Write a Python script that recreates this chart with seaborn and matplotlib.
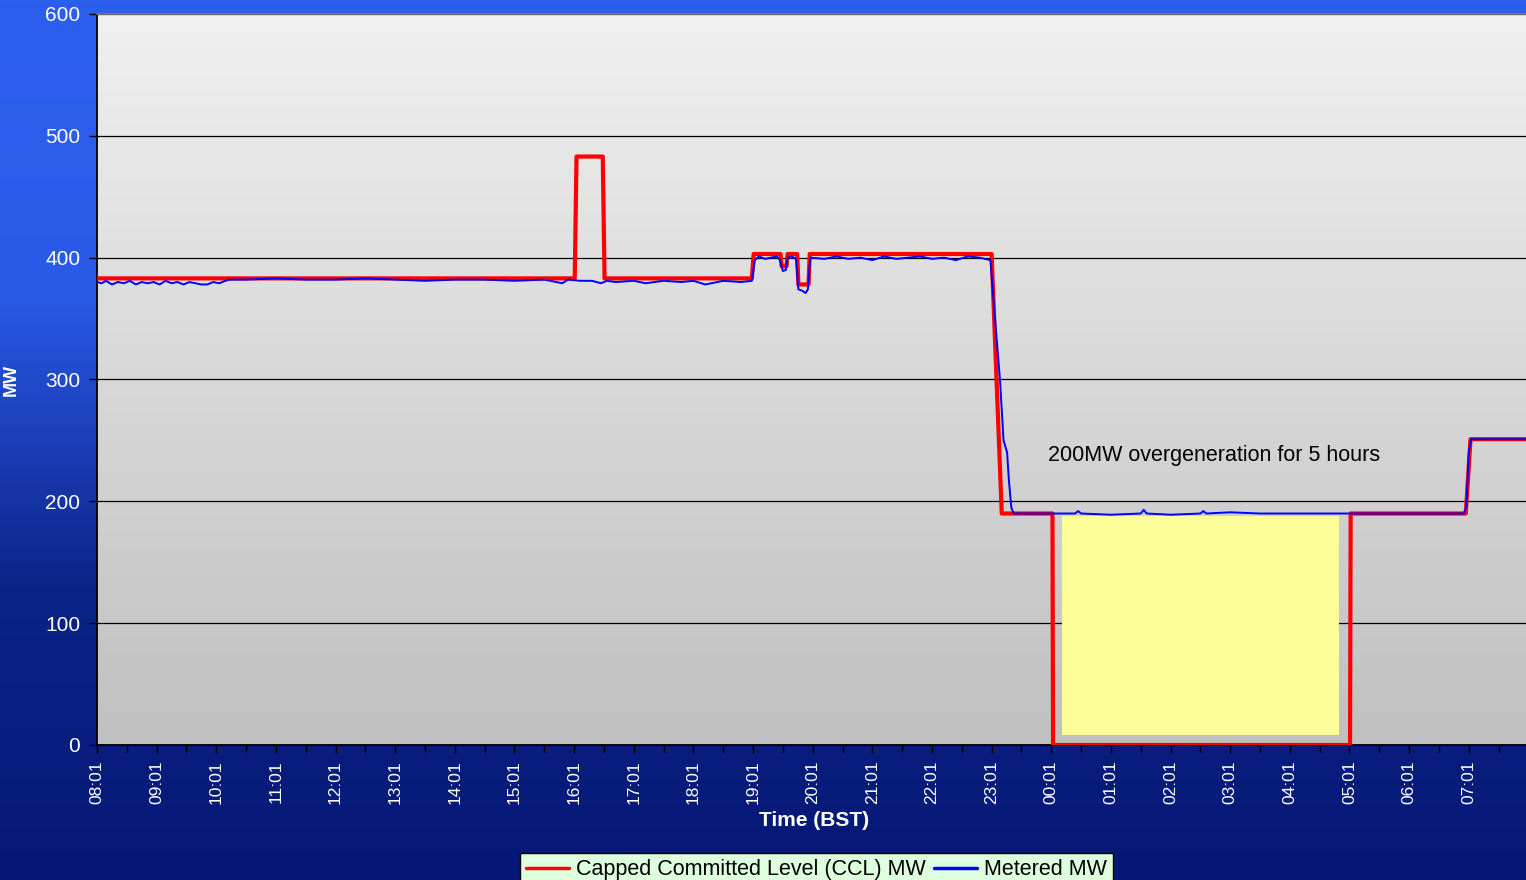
import numpy as np
import pandas as pd
import matplotlib
matplotlib.use("Agg")
import matplotlib.pyplot as plt
import seaborn as sns
from matplotlib.patches import Rectangle
from matplotlib.colors import LinearSegmentedColormap
from matplotlib.ticker import MultipleLocator

# ---------------- data (time = hours after 08:01 BST) ----------------
hour_labels = ["08:01", "09:01", "10:01", "11:01", "12:01", "13:01", "14:01", "15:01",
               "16:01", "17:01", "18:01", "19:01", "20:01", "21:01", "22:01", "23:01",
               "00:01", "01:01", "02:01", "03:01", "04:01", "05:01", "06:01", "07:01"]

ccl_t = [0.00, 8.01, 8.04, 8.48, 8.51, 10.98, 11.01, 11.46, 11.48, 11.56, 11.58,
         11.74, 11.76, 11.93, 11.95, 15.00, 15.17, 16.02, 16.03, 21.01, 21.02,
         22.95, 23.03, 23.96]
ccl_v = [383, 383, 483, 483, 383, 383, 403, 403, 393, 393, 403,
         403, 378, 378, 403, 403, 190, 190, 0, 0, 190,
         190, 251, 251]

met_t = [0.00, 0.08, 0.15, 0.25, 0.35, 0.45, 0.55, 0.65, 0.75, 0.85, 0.95, 1.05,
         1.15, 1.25, 1.35, 1.45, 1.55, 1.65, 1.75, 1.85, 1.95, 2.05, 2.15, 2.22,
         2.50, 3.00, 3.50, 4.00, 4.50, 5.00, 5.50, 6.00, 6.50, 7.00, 7.50, 7.80,
         7.90, 8.10, 8.30, 8.45, 8.55, 8.70, 9.00, 9.20, 9.50, 9.80, 10.00, 10.20,
         10.50, 10.80, 10.98, 11.03, 11.10, 11.20, 11.30, 11.40, 11.45, 11.50, 11.55,
         11.58, 11.65, 11.72, 11.76, 11.82, 11.88, 11.92, 11.96, 12.20, 12.40, 12.60,
         12.80, 13.00, 13.20, 13.40, 13.60, 13.80, 14.00, 14.20, 14.40, 14.60, 14.80,
         14.98, 15.04, 15.09, 15.14, 15.20, 15.26, 15.29, 15.33, 15.37, 15.60, 16.00,
         16.40, 16.45, 16.50, 17.00, 17.50, 17.55, 17.60, 18.00, 18.50, 18.55, 18.60,
         19.00, 19.50, 20.00, 20.50, 21.00, 21.50, 22.00, 22.50, 22.92, 22.96, 23.00,
         23.04, 23.96]
met_v = [380, 379, 381, 378, 380, 379, 381, 378, 380, 379, 380, 378,
         381, 379, 380, 378, 380, 379, 378, 378, 380, 379, 381, 382,
         382, 383, 382, 382, 383, 382, 381, 382, 382, 381, 382, 379,
         382, 381, 381, 379, 381, 380, 381, 379, 381, 380, 381, 378,
         381, 380, 381, 398, 401, 399, 400, 401, 398, 389, 390,
         400, 401, 399, 374, 373, 371, 374, 400, 399, 401, 399,
         400, 398, 401, 399, 400, 401, 399, 400, 398, 401, 400,
         398, 360, 330, 300, 250, 240, 217, 195, 190, 190, 190,
         190, 192, 190, 189, 190, 193, 190, 189, 190, 192, 190,
         191, 190, 190, 190, 190, 190, 190, 190, 190, 196, 240,
         251, 251]

overgen_t = [16.18, 20.82]   # yellow overgeneration window
overgen_v = [8, 188]
note_text = "200MW overgeneration for 5 hours"
note_pos = (18.73, 238)

# ---------------- figure ----------------
sns.set_theme(style="white")
plt.rcParams["font.family"] = ["Liberation Sans", "DejaVu Sans"]

fig = plt.figure(figsize=(15.26, 8.8), dpi=100)

# figure gradient background
bg = fig.add_axes([0, 0, 1, 1], zorder=-10)
bg_cmap = LinearSegmentedColormap.from_list("bgblue", ["#061876", "#0c2488", "#2a5ae8", "#2d5fee"])
grad = np.linspace(0, 1, 256).reshape(-1, 1)
bg.imshow(grad, aspect="auto", cmap=bg_cmap, extent=[0, 1, 0, 1], origin="lower")
bg.axis("off")

x0, x1 = 0.0, 23.96
ax = fig.add_axes([97 / 1526, 1 - 745 / 880, 1 - 97 / 1526, (745 - 14) / 880])
ax.set_facecolor("none")

# plot area gradient
pa_cmap = LinearSegmentedColormap.from_list("pa", ["#c0c0c0", "#f0f0f0"])
ax.imshow(grad, aspect="auto", cmap=pa_cmap, extent=[x0, x1, 0, 600], origin="lower", zorder=0)

# yellow box
ax.add_patch(Rectangle((overgen_t[0], overgen_v[0]), overgen_t[1] - overgen_t[0],
                       overgen_v[1] - overgen_v[0], facecolor="#fdfd9a", edgecolor="none", zorder=1))

ccl_df = pd.DataFrame({"t": ccl_t, "v": ccl_v})
met_df = pd.DataFrame({"t": met_t, "v": met_v})
sns.lineplot(data=ccl_df, x="t", y="v", ax=ax, color="#ff0000", lw=3.0, sort=False,
             estimator=None, zorder=3, label="Capped Committed Level (CCL) MW", legend=False)
sns.lineplot(data=met_df, x="t", y="v", ax=ax, color="#0000ff", lw=1.4, sort=False,
             estimator=None, zorder=4, label="Metered MW", legend=False)

ax.text(note_pos[0], note_pos[1], note_text, ha="center", va="center", fontsize=15.5, color="black")

ax.set_xlim(x0, x1)
ax.set_ylim(0, 600)
ax.set_yticks(range(0, 601, 100))
ax.set_xticks(range(len(hour_labels)))
ax.set_xticklabels(hour_labels, rotation=90)
ax.xaxis.set_minor_locator(MultipleLocator(0.5))
ax.yaxis.grid(True, color="black", lw=0.9)
ax.set_axisbelow(True)
ax.tick_params(axis="both", which="both", direction="out", color="black", labelcolor="white",
               bottom=True, left=True)
ax.tick_params(axis="y", which="major", length=6, width=1, labelsize=15, pad=6)
ax.tick_params(axis="x", which="major", length=6, width=1, labelsize=12.5, pad=5)
ax.tick_params(axis="x", which="minor", length=5, width=1)

for s in ["left", "bottom"]:
    ax.spines[s].set_color("black")
    ax.spines[s].set_linewidth(1.3)
ax.spines["top"].set_color("#777777")
ax.spines["top"].set_linewidth(1.3)
ax.spines["right"].set_visible(False)

ax.set_ylabel("MW", color="white", fontweight="bold", fontsize=13)
ax.yaxis.set_label_coords(-0.054, 0.5)
ax.set_xlabel("Time (BST)", color="white", fontweight="bold", fontsize=15)
ax.xaxis.set_label_coords(0.502, -0.090)

handles, labels = ax.get_legend_handles_labels()
leg = fig.legend(handles, labels, loc="upper center", bbox_to_anchor=(0.535, 0.031), ncol=2,
                 frameon=True, fancybox=False, facecolor="#ddffdd", edgecolor="black",
                 framealpha=1, borderaxespad=0, handlelength=2.0, handletextpad=0.3,
                 columnspacing=0.4, borderpad=0.3,
                 prop={"family": ["Liberation Sans"], "size": 15.5})
leg.get_frame().set_linewidth(1.0)
for line in leg.get_lines():
    line.set_linewidth(2.5)
for t in leg.get_texts():
    t.set_color("black")

fig.savefig("out.png", dpi=100)
